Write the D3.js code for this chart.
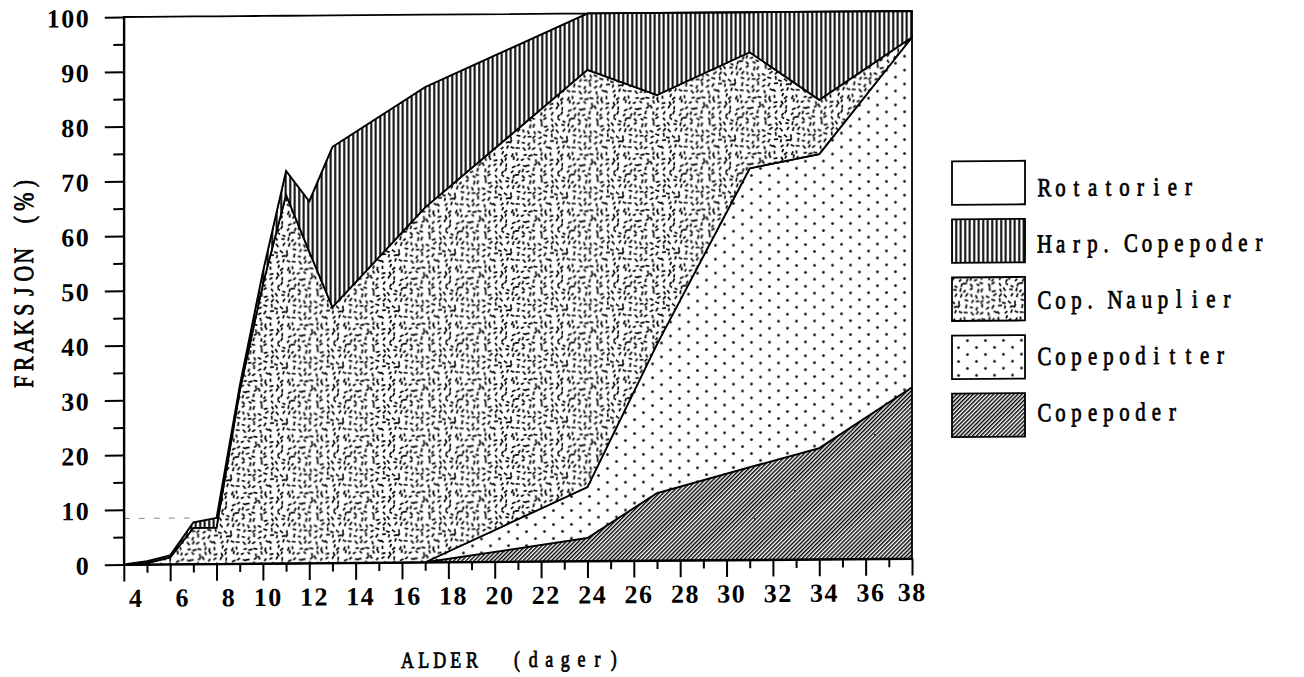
<!DOCTYPE html>
<html>
<head>
<meta charset="utf-8">
<script src="https://cdn.jsdelivr.net/npm/d3@7"></script>
<style>
  html, body { margin: 0; padding: 0; background: #fff; }
  svg { display: block; }
  text { white-space: pre; }
</style>
</head>
<body>
<svg id="chart" width="1304" height="677"></svg>
<script>
// Age of the larvae (days) at each sampling
const days = [4, 5, 6, 7, 8, 9, 10, 11, 12, 13, 17, 24, 27, 31, 34, 38];

// Share of the diet (%) per prey group, listed from the bottom layer up
const copepoder     = [0, 0, 0, 0, 0, 0, 0, 0, 0, 0, 0, 4.2, 12.3, 16.9, 20.3, 31.3];
const copepoditter  = [0, 0, 0, 0, 0, 0, 0, 0, 0, 0, 0, 9.3, 27.2, 54.6, 53.7, 63.9];
const copNauplier   = [0, 0.2, 1.2, 6.6, 6.6, 31.5, 51, 67.3, 56.9, 46.7, 64.8, 76.2, 45.5, 21.2, 9.9, 0];
const harpCopepoder = [0, 0.4, 0.4, 1.0, 1.8, 1.0, 2.3, 4.4, 9.2, 29.3, 22.0, 10.3, 15.0, 7.3, 16.1, 4.8];
const rotatorier    = [100, 99.4, 98.4, 92.4, 91.6, 67.5, 46.7, 28.3, 33.9, 24.0, 13.2, 0, 0, 0, 0, 0];

// Legend entries, top to bottom
const legendLabels = ["Rotatorier", "Harp. Copepoder", "Cop. Nauplier", "Copepoditter", "Copepoder"];

// Axis ticks
const xTickLabels = [4, 6, 8, 10, 12, 14, 16, 18, 20, 22, 24, 26, 28, 30, 32, 34, 36, 38];
const yTickLabels = [0, 10, 20, 30, 40, 50, 60, 70, 80, 90, 100];
const xTitle = "ALDER (dager)";
const yTitle = "FRAKSJON (%)";

const keys = ["copepoder", "copepoditter", "copNauplier", "harpCopepoder", "rotatorier"];
const seriesValues = { copepoder, copepoditter, copNauplier, harpCopepoder, rotatorier };
const table = days.map((d, i) => {
  const row = { day: d };
  keys.forEach(k => { row[k] = seriesValues[k][i]; });
  return row;
});

const svg = d3.select("#chart");
const defs = svg.append("defs");

// ---- fill patterns ----
// vertical rules (Harp. Copepoder)
const pv = defs.append("pattern").attr("id", "pat-vlines")
  .attr("patternUnits", "userSpaceOnUse").attr("width", 4.5).attr("height", 20);
pv.append("rect").attr("width", 4.5).attr("height", 20).attr("fill", "#fff");
pv.append("rect").attr("x", 1.2).attr("width", 2.0).attr("height", 20).attr("fill", "#000");

// fine diagonal hatching (Copepoder)
const pd = defs.append("pattern").attr("id", "pat-diag")
  .attr("patternUnits", "userSpaceOnUse").attr("width", 2.9).attr("height", 20)
  .attr("patternTransform", "rotate(45)");
pd.append("rect").attr("width", 2.9).attr("height", 20).attr("fill", "#fff");
pd.append("rect").attr("width", 1.45).attr("height", 20).attr("fill", "#000");

// staggered dots (Copepoditter)
const pdots = defs.append("pattern").attr("id", "pat-dots")
  .attr("patternUnits", "userSpaceOnUse").attr("width", 18).attr("height", 13.9);
pdots.append("rect").attr("width", 18).attr("height", 13.9).attr("fill", "#fff");
pdots.append("circle").attr("cx", 4.5).attr("cy", 3.5).attr("r", 1.35).attr("fill", "#000");
pdots.append("circle").attr("cx", 13.5).attr("cy", 10.45).attr("r", 1.35).attr("fill", "#000");

// evenly scattered short dashes (Cop. Nauplier): jittered grid, random tilt
const cell = 5.6, nCell = 10, tile = cell * nCell;
const pn = defs.append("pattern").attr("id", "pat-dash")
  .attr("patternUnits", "userSpaceOnUse").attr("width", tile).attr("height", tile);
pn.append("rect").attr("width", tile).attr("height", tile).attr("fill", "#fff");
let seed = 20231;
const lcg = () => (seed = (seed * 16807) % 2147483647) / 2147483647;
const dashSegs = [];
for (let r = 0; r < nCell; r++) {
  for (let c = 0; c < nCell; c++) {
    const cx = (c + 0.5 + (lcg() - 0.5) * 0.6) * cell;
    const cy = (r + 0.5 + (lcg() - 0.5) * 0.6) * cell;
    const a = lcg() * Math.PI, L = 3.2 + lcg() * 1.0;
    for (const ox of [-tile, 0, tile]) for (const oy of [-tile, 0, tile]) {
      dashSegs.push({ x1: cx + ox - Math.cos(a) * L / 2, y1: cy + oy - Math.sin(a) * L / 2,
                      x2: cx + ox + Math.cos(a) * L / 2, y2: cy + oy + Math.sin(a) * L / 2 });
    }
  }
}
pn.selectAll("line").data(dashSegs).join("line")
  .attr("x1", d => d.x1).attr("y1", d => d.y1).attr("x2", d => d.x2).attr("y2", d => d.y2)
  .attr("stroke", "#000").attr("stroke-width", 1.7);

const fills = {
  copepoder: "url(#pat-diag)",
  copepoditter: "url(#pat-dots)",
  copNauplier: "url(#pat-dash)",
  harpCopepoder: "url(#pat-vlines)",
  rotatorier: "#fff"
};

// whole figure sits on a very slightly tilted sheet
const root = svg.append("g")
  .attr("transform", "translate(518,288) skewY(-0.435) translate(-518,-288)");

const x = d3.scaleLinear().domain([4, 38]).range([123.8, 912]);
const y = d3.scaleLinear().domain([0, 100]).range([561.5, 14]);

// ---- stacked areas ----
const stacked = d3.stack().keys(keys)(table);
const area = d3.area()
  .x(d => x(d.data.day))
  .y0(d => y(d[0]))
  .y1(d => y(d[1]));

root.append("g").selectAll("path").data(stacked).join("path")
  .attr("d", area)
  .attr("fill", d => fills[d.key])
  .attr("stroke", "#000")
  .attr("stroke-width", 1.8)
  .attr("stroke-linejoin", "miter");

// faint dashed guide at the level reached on day 8
const guideLevel = d3.sum(keys.slice(0, 4), k => seriesValues[k][days.indexOf(8)]);
root.append("line")
  .attr("x1", x(4)).attr("x2", x(7))
  .attr("y1", y(guideLevel)).attr("y2", y(guideLevel))
  .attr("stroke", "#8a8a8a").attr("stroke-width", 1).attr("stroke-dasharray", "6 9");

// ---- axes ----
const styleAxis = g => {
  g.selectAll(".domain").attr("stroke", "#000").attr("stroke-width", 2);
  g.selectAll(".tick line").attr("stroke", "#000").attr("stroke-width", 2);
  g.selectAll(".tick text").remove();
};

root.append("g").attr("transform", `translate(${x(4)},0)`)
  .call(d3.axisLeft(y).tickValues(yTickLabels).tickSize(19).tickSizeOuter(0).tickFormat(""))
  .call(styleAxis);
root.append("g").attr("transform", `translate(${x(4)},0)`)
  .call(d3.axisLeft(y).tickValues(d3.range(5, 100, 10)).tickSize(10.5).tickSizeOuter(0).tickFormat(""))
  .call(styleAxis).call(g => g.select(".domain").remove());

root.append("g").attr("transform", `translate(0,${y(0)})`)
  .call(d3.axisBottom(x).tickValues(xTickLabels).tickSize(17).tickSizeOuter(0).tickFormat(""))
  .call(styleAxis);
root.append("g").attr("transform", `translate(0,${y(0)})`)
  .call(d3.axisBottom(x).tickValues(d3.range(5, 38, 2)).tickSize(8.5).tickSizeOuter(0).tickFormat(""))
  .call(styleAxis).call(g => g.select(".domain").remove());

// ---- evenly pitched lettering ----
function pitchedText(parent, str, o) {
  const P = o.pitch, sx = o.sx || 1;
  const adv = [...str].map(c => (o.adv && o.adv[c] !== undefined ? o.adv[c] : 1) * P);
  const total = d3.sum(adv);
  let cur = 0;
  const centers = adv.map(a => { const c = cur + a / 2; cur += a; return c; });
  const left = o.anchor === "end" ? -total : o.anchor === "middle" ? -total / 2 : 0;
  return parent.append("text")
    .attr("transform", `translate(${o.x},${o.y}) rotate(${o.rotate || 0}) scale(${sx},1)`)
    .attr("x", centers.map(c => ((c + left) / sx).toFixed(2)).join(" "))
    .attr("y", 0)
    .attr("text-anchor", "middle")
    .attr("font-family", "'Liberation Serif', 'DejaVu Serif', serif")
    .attr("font-size", o.size)
    .attr("font-weight", o.weight || "normal")
    .attr("fill", "#000")
    .attr("stroke", o.stroke ? "#000" : "none")
    .attr("stroke-width", o.stroke || 0)
    .text(str);
}

// y tick labels, right aligned
yTickLabels.forEach(v => {
  pitchedText(root, String(v), { x: 89.5, y: y(v) + 10, pitch: 14.5, anchor: "end", size: 26, weight: "bold" });
});
// x tick labels in two-character fields
xTickLabels.forEach((v, i) => {
  const shift = i === xTickLabels.length - 1 ? 14 : 19;
  pitchedText(root, String(v), { x: x(v) + shift, y: 604, pitch: 14.5, anchor: "end", size: 26, weight: "bold" });
});

// axis titles
pitchedText(root, xTitle, { x: 399.5, y: 667, pitch: 16.1, adv: { " ": 1.8 }, anchor: "start",
  size: 23, sx: 0.78, stroke: 0.8 });
pitchedText(root, yTitle, { x: 33, y: 279, pitch: 18, anchor: "middle",
  size: 28, sx: 0.78, stroke: 0.8, rotate: -90 });

// ---- legend ----
const legendKeys = ["rotatorier", "harpCopepoder", "copNauplier", "copepoditter", "copepoder"];
const legend = root.append("g");
legendKeys.forEach((k, i) => {
  legend.append("rect")
    .attr("x", 952).attr("y", 164.6 + i * 58.1)
    .attr("width", 73).attr("height", 43.5)
    .attr("fill", fills[k]).attr("stroke", "#000").attr("stroke-width", 1.8);
  pitchedText(legend, legendLabels[i], {
    x: 1036.5, y: 200.1 + i * 56.25, pitch: 16, adv: { ".": 0.7, " ": 0.7 },
    anchor: "start", size: 26, sx: 0.8, stroke: 0.8
  });
});
</script>
</body>
</html>
